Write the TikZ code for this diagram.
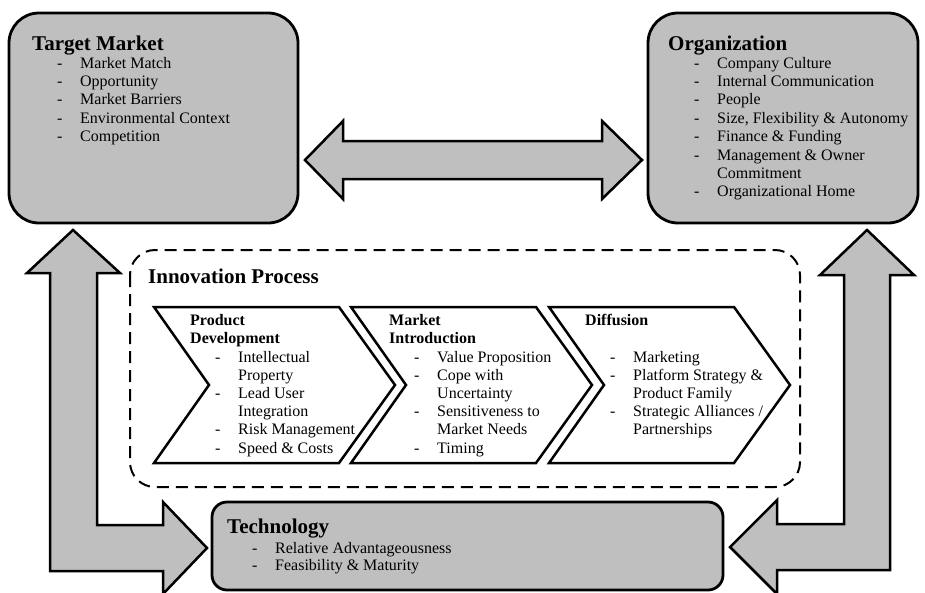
\documentclass[tikz,border=0pt]{standalone}
\usepackage{fontspec}
\setmainfont{Liberation Serif}
\definecolor{boxgray}{RGB}{191,191,191}
\newcommand{\itm}[1]{\makebox[23pt][l]{-}#1}
\newcommand{\cnt}[1]{\makebox[23pt]{}#1}
\tikzset{
  bigbox/.style={draw, line width=2.8pt, fill=boxgray, rounded corners=30pt, inner sep=0pt},
  blockarrow/.style={draw, line width=2.5pt, fill=boxgray},
  chev/.style={draw, line width=2.5pt, fill=white},
  dashbox/.style={draw, line width=2pt, dash pattern=on 12pt off 7pt, rounded corners=25pt},
  ttl/.style={anchor=base west, inner sep=0pt, font=\fontsize{21}{24}\selectfont\bfseries},
  lst/.style={anchor=base west, inner sep=0pt, align=left, font=\fontsize{16}{18.4}\selectfont},
  chtl/.style={anchor=base west, inner sep=0pt, align=left, font=\fontsize{16}{18}\selectfont\bfseries},
}
\begin{document}
\begin{tikzpicture}[x=1pt,y=-1pt]
\useasboundingbox (0,0) rectangle (925,592);
% block arrows
\draw[blockarrow] (305,160)--(343,121)--(343,141)--(602,141)--(602,121)--(642,160)
  --(602,199)--(602,179)--(343,179)--(343,199)--cycle;
\draw[blockarrow] (73,230)--(120,273)--(97,273)--(97,525)--(163,525)--(163,502)--(207,548)
  --(163,594)--(163,571)--(50,571)--(50,273)--(27,273)--cycle;
\draw[blockarrow] (867,230)--(914,275)--(890,275)--(890,570)--(777,570)--(777,594)--(730,547)
  --(777,500)--(777,524)--(844,524)--(844,275)--(820,275)--cycle;
% boxes (multi-line texts sit on their last baseline)
\node[bigbox, minimum width=289pt, minimum height=210pt] (tm) at (153.5,118) {};
\node[bigbox, minimum width=270pt, minimum height=210pt] (org) at (783,118) {};
\node[bigbox, rounded corners=15pt, minimum width=511pt, minimum height=88pt] (tech) at (467.5,546) {};
\node[ttl] (tmTitle) at (32,50) {Target Market};
\node[lst] (tmList) at (57,141.6) {\itm{Market Match}\\ \itm{Opportunity}\\ \itm{Market Barriers}\\
  \itm{Environmental Context}\\ \itm{Competition}};
\node[ttl] (orgTitle) at (668,50) {Organization};
\node[lst] (orgList) at (694,196.8) {\itm{Company Culture}\\ \itm{Internal Communication}\\ \itm{People}\\
  \itm{Size, Flexibility \& Autonomy}\\ \itm{Finance \& Funding}\\ \itm{Management \& Owner}\\
  \cnt{Commitment}\\ \itm{Organizational Home}};
\node[ttl] (techTitle) at (227,533) {Technology};
\node[lst, font=\fontsize{16}{17}\selectfont] (techList) at (252,570) {\itm{Relative Advantageousness}\\
  \itm{Feasibility \& Maturity}};
% innovation process
\draw[dashbox] (130,250) rectangle (800,487);
\node[ttl] (ipTitle) at (148,283) {Innovation Process};
\foreach \L in {154,351,549}
  \draw[chev] (\L,307) -- ++(185,0) -- ++(56,78) -- ++(-56,78) -- ++(-185,0) -- ++(55,-78) -- cycle;
\node[chtl] (pdTitle) at (190,343) {Product\\Development};
\node[lst, font=\fontsize{16}{18.2}\selectfont] (pdList) at (215,453) {\itm{Intellectual}\\ \cnt{Property}\\
  \itm{Lead User}\\ \cnt{Integration}\\ \itm{Risk Management}\\ \itm{Speed \& Costs}};
\node[chtl] (miTitle) at (389,343) {Market\\Introduction};
\node[lst, font=\fontsize{16}{18.2}\selectfont] (miList) at (414,453) {\itm{Value Proposition}\\ \itm{Cope with}\\
  \cnt{Uncertainty}\\ \itm{Sensitiveness to}\\ \cnt{Market Needs}\\ \itm{Timing}};
\node[chtl] (dfTitle) at (585,325) {Diffusion};
\node[lst, font=\fontsize{16}{18.2}\selectfont] (dfList) at (610,434.8) {\itm{Marketing}\\
  \itm{Platform Strategy \&}\\ \cnt{Product Family}\\ \itm{Strategic Alliances /}\\ \cnt{Partnerships}};
\end{tikzpicture}
\end{document}
